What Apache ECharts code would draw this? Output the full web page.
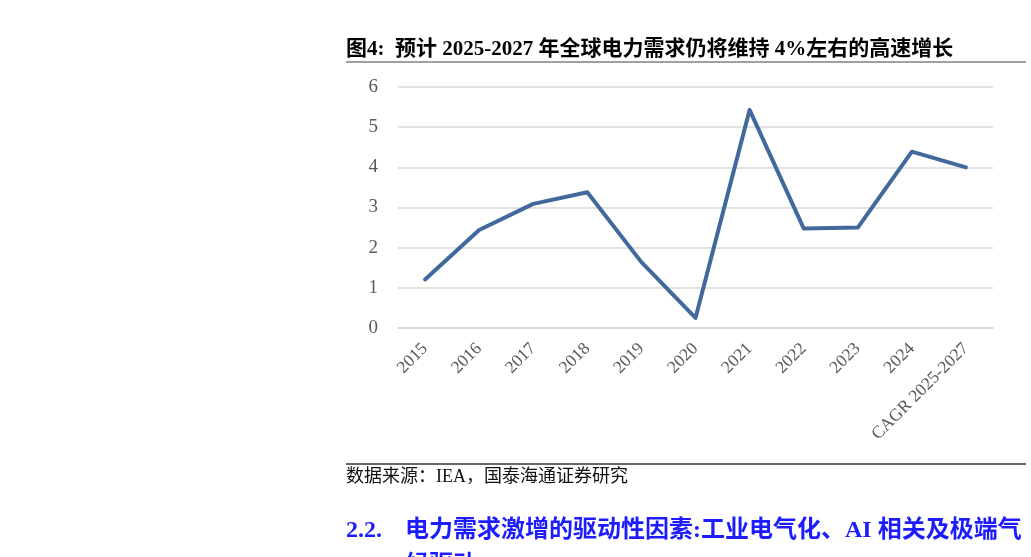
<!DOCTYPE html>
<html>
<head>
<meta charset="utf-8">
<script src="https://cdn.jsdelivr.net/npm/echarts@6/dist/echarts.min.js"></script>
<style>
html,body{margin:0;padding:0;background:#fff;}
#chart{width:1031px;height:557px;}
</style>
</head>
<body>
<div id="chart"></div>
<script>
// Data
var categories = ['2015','2016','2017','2018','2019','2020','2021','2022','2023','2024','CAGR 2025-2027'];
var growth = [1.21, 2.44, 3.09, 3.38, 1.64, 0.25, 5.43, 2.48, 2.50, 4.39, 4.00];
var yTicks = [0, 1, 2, 3, 4, 5, 6];

var titleText = '图4:  预计 2025-2027 年全球电力需求仍将维持 4%左右的高速增长';
var sourceText = '数据来源：IEA，国泰海通证券研究';
var headingNum = '2.2.';
var headingText = '电力需求激增的驱动性因素:工业电气化、AI 相关及极端气';
var headingText2 = '候驱动';

var serif = "'Liberation Serif','Noto Sans CJK SC',serif";
var chart = echarts.init(document.getElementById('chart'), null, {renderer: 'canvas'});
chart.setOption({
  backgroundColor: '#ffffff',
  animation: false,
  grid: {left: 398, right: 38, top: 87, bottom: 229, containLabel: false},
  xAxis: {
    type: 'category',
    data: categories,
    boundaryGap: true,
    axisLine: {show: true, lineStyle: {color: '#d9d9d9', width: 1.5}},
    axisTick: {show: false},
    axisLabel: {
      rotate: 45,
      margin: 18,
      interval: 0,
      color: '#595959',
      fontFamily: serif,
      fontSize: 17.5
    }
  },
  yAxis: {
    type: 'value',
    min: yTicks[0],
    max: yTicks[yTicks.length - 1],
    interval: 1,
    axisLine: {show: false},
    axisTick: {show: false},
    splitLine: {show: true, lineStyle: {color: '#d9d9d9', width: 1.5}},
    axisLabel: {margin: 20, color: '#595959', fontFamily: serif, fontSize: 19}
  },
  series: [{
    type: 'line',
    data: growth,
    symbol: 'none',
    lineStyle: {color: '#41699b', width: 4, cap: 'round', join: 'round'},
    z: 3
  }],
  graphic: [
    {type: 'text', left: 346, top: 39, style: {text: titleText, font: 'bold 21px ' + serif, fill: '#000'}},
    {type: 'line', shape: {x1: 346, y1: 62, x2: 1026, y2: 62}, style: {stroke: '#808080', lineWidth: 1.5}},
    {type: 'line', shape: {x1: 346, y1: 464, x2: 1026, y2: 464}, style: {stroke: '#333', lineWidth: 1.5}},
    {type: 'text', left: 346, top: 468, style: {text: sourceText, font: '18px ' + serif, fill: '#111'}},
    {type: 'text', left: 346, top: 519, style: {text: headingNum, font: 'bold 24px ' + serif, fill: '#1c1cff'}},
    {type: 'text', left: 405, top: 519, style: {text: headingText, font: 'bold 24px ' + serif, fill: '#1c1cff'}},
    {type: 'text', left: 405, top: 554, style: {text: headingText2, font: 'bold 24px ' + serif, fill: '#1c1cff'}}
  ]
});
</script>
</body>
</html>
